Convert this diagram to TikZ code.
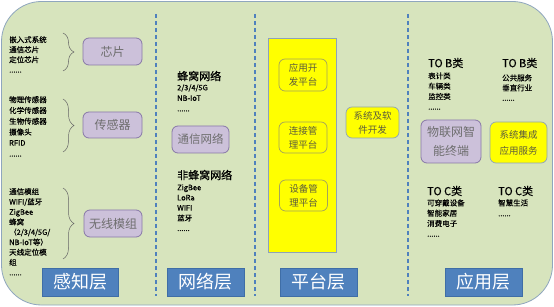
\documentclass[tikz,border=0pt]{standalone}
\usepackage{fontspec}
\setmainfont{Noto Sans CJK SC}
\newfontfamily\boldish[FakeBold=0.35]{Noto Sans CJK SC}
\usetikzlibrary{decorations.pathreplacing}
\definecolor{bggreen}{HTML}{D7E4BD}
\definecolor{bgborder}{HTML}{8FA6BE}
\definecolor{dashblue}{HTML}{4F81BD}
\definecolor{labelblue}{HTML}{4F81BD}
\definecolor{labelborder}{HTML}{3F6EA6}
\definecolor{purfill}{HTML}{CCC1DA}
\definecolor{purdraw}{HTML}{8878A8}
\definecolor{purtext}{HTML}{6E6E6E}
\definecolor{yelfill}{HTML}{FFFF00}
\definecolor{olivedraw}{HTML}{A3A35C}
\definecolor{olivetext}{HTML}{5C5C3C}
\definecolor{greyblue}{HTML}{8EA3B8}
\begin{document}
\begin{tikzpicture}[x=1pt,y=-1pt,
  layerlabel/.style={draw=labelborder,fill=labelblue,text=white,inner sep=0,
    font=\fontsize{18}{20}\selectfont},
  purbox/.style={draw=purdraw,fill=purfill,text=purtext,rounded corners=6pt,
    line width=0.8pt,inner sep=0,align=center},
  yelbox/.style={draw=olivedraw,fill=yelfill,text=olivetext,rounded corners=6pt,
    line width=0.7pt,inner sep=0,align=center,font=\fontsize{9.5}{14}\selectfont},
  smalltext/.style={anchor=north west,inner sep=0,align=left,text=black},
  headtext/.style={anchor=west,inner sep=0,text=black,font=\boldish\fontsize{11}{13}\selectfont},
  dashline/.style={draw=dashblue,line width=1.1pt,dash pattern=on 4pt off 3pt},
  bracestyle/.style={draw=black!60,line width=0.5pt,
    decorate,decoration={brace,amplitude=11pt}}
]
\useasboundingbox (0,0) rectangle (554,307);
\fill[white] (0,0) rectangle (554,307);
\draw[draw=bgborder,fill=bggreen,line width=0.8pt,rounded corners=40pt]
  (1.5,1.5) rectangle (552.5,305);

% dashed separators
\draw[dashline] (156,14) -- (156,296);
\draw[dashline] (255,14) -- (255,296);
\draw[dashline] (408,14) -- (408,296);

% layer labels
\node[layerlabel,minimum width=76,minimum height=28] (l1) at (80,282) {感知层};
\node[layerlabel,minimum width=77,minimum height=28] (l2) at (205.5,282) {网络层};
\node[layerlabel,minimum width=77,minimum height=28] (l3) at (318.5,282) {平台层};
\node[layerlabel,minimum width=77,minimum height=28] (l4) at (483.5,282) {应用层};

% perception layer
\node[smalltext,font=\boldish\fontsize{7.5}{10}\selectfont] (chiptxt) at (9,36)
  {嵌入式系统\\通信芯片\\定位芯片\\......};
\draw[bracestyle] (63,33) -- (63,71);
\node[purbox,minimum width=59,minimum height=27,font=\fontsize{12}{14}\selectfont]
  (chip) at (112.5,51.5) {芯片};

\node[smalltext,font=\boldish\fontsize{7.5}{10.8}\selectfont] (sentxt) at (9,96)
  {物理传感器\\化学传感器\\生物传感器\\摄像头\\RFID\\......};
\draw[bracestyle] (63,99) -- (63,152);
\node[purbox,minimum width=59,minimum height=26,font=\fontsize{12}{14}\selectfont]
  (sensor) at (112.5,125) {传感器};

\node[smalltext,font=\boldish\fontsize{7.5}{10.1}\selectfont] (wltxt) at (9,188)
  {通信模组\\WIFI/蓝牙\\ZigBee\\蜂窝\\（2/3/4/5G/\\NB-IoT等）\\天线定位模\\组\\......};
\draw[bracestyle] (63,188) -- (63,259);
\node[purbox,minimum width=58,minimum height=27,font=\fontsize{12}{14}\selectfont]
  (wireless) at (113,223.5) {无线模组};

% network layer
\node[headtext] (cellhead) at (177,76) {蜂窝网络};
\node[smalltext,font=\boldish\fontsize{7.5}{10.5}\selectfont] (celltxt) at (177,84.2)
  {2/3/4/5G\\NB-IoT\\......};
\node[purbox,minimum width=57,minimum height=27,font=\fontsize{11.5}{14}\selectfont]
  (commnet) at (200.5,139.5) {通信网络};
\node[headtext] (noncellhead) at (177,175) {非蜂窝网络};
\node[smalltext,font=\boldish\fontsize{7.5}{10.2}\selectfont] (noncelltxt) at (177,184.2)
  {ZigBee\\LoRa\\WIFI\\蓝牙\\......};

% platform layer
\node[draw=greyblue,fill=yelfill,line width=0.7pt,minimum width=68,minimum height=214,
  inner sep=0] (platcol) at (302,145) {};
\node[yelbox,minimum width=48,minimum height=32] (appdev) at (303,75) {应用开\\发平台};
\node[yelbox,minimum width=48,minimum height=31] (connmgr) at (303,137.5) {连接管\\理平台};
\node[yelbox,minimum width=48,minimum height=31] (devmgr) at (303.5,195.5) {设备管\\理平台};
\node[yelbox,draw=greyblue,minimum width=53,minimum height=31] (sysdev) at (372.5,122.5)
  {系统及软\\件开发};

% application layer
\node[headtext] (tob1head) at (428,63) {TO B类};
\node[smalltext,font=\boldish\fontsize{7.5}{10.3}\selectfont] (tob1txt) at (428,72.2)
  {表计类\\车辆类\\监控类\\......};
\node[headtext] (tob2head) at (502,63) {TO B类};
\node[smalltext,font=\boldish\fontsize{7.5}{10}\selectfont] (tob2txt) at (502,74.2)
  {公共服务\\垂直行业\\......};

\node[purbox,minimum width=60,minimum height=43,font=\fontsize{12}{19}\selectfont]
  (terminal) at (451,141.5) {物联网智\\能终端};
\node[yelbox,draw=greyblue,minimum width=57,minimum height=41,
  font=\fontsize{9.5}{16}\selectfont] (sysint) at (518.5,142.5) {系统集成\\应用服务};

\node[headtext] (toc1head) at (427,191) {TO C类};
\node[smalltext,font=\boldish\fontsize{7.5}{10.3}\selectfont] (toc1txt) at (427,199.2)
  {可穿戴设备\\智能家居\\消费电子\\......};
\node[headtext] (toc2head) at (498,191) {TO C类};
\node[smalltext,font=\boldish\fontsize{7.5}{10.5}\selectfont] (toc2txt) at (498,199.2)
  {智慧生活\\......};
\end{tikzpicture}
\end{document}
